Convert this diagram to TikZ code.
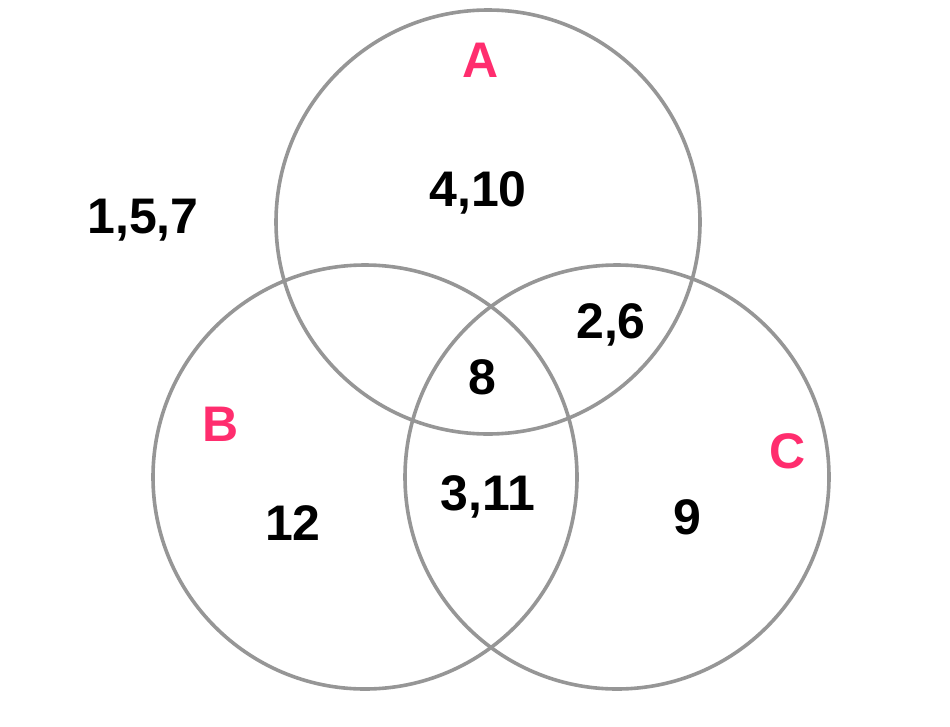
\documentclass[tikz,border=0pt]{standalone}
\usepackage{fontspec}
\setmainfont{Liberation Sans}
\definecolor{ringgray}{RGB}{150,150,150}
\definecolor{setpink}{RGB}{255,45,110}
\tikzset{
  ring/.style={draw=ringgray, line width=3.6pt},
  num/.style={font=\fontsize{50}{50}\selectfont\bfseries, text=black, inner sep=0pt},
  setlabel/.style={font=\fontsize{50}{50}\selectfont\bfseries, text=setpink, inner sep=0pt}
}
\begin{document}
\begin{tikzpicture}[x=1pt,y=-1pt]
\useasboundingbox (0,0) rectangle (950,726);
\draw[ring] (488,222) circle[radius=212];
\draw[ring] (365,477) circle[radius=212];
\draw[ring] (617,477) circle[radius=212];
\node[setlabel] (la) at (481,60) {A};
\node[setlabel] (lb) at (221,424) {B};
\node[setlabel] (lc) at (788,451) {C};
\node[num] (n410) at (478,193) {4,10};
\node[num] (n157) at (143,220) {1,5,7};
\node[num] (n26) at (611,325) {2,6};
\node[num] (n8) at (482,377) {8};
\node[num] (n311) at (488,497) {3,11};
\node[num] (n12) at (293,523) {12};
\node[num] (n9) at (687,517) {9};
\end{tikzpicture}
\end{document}
